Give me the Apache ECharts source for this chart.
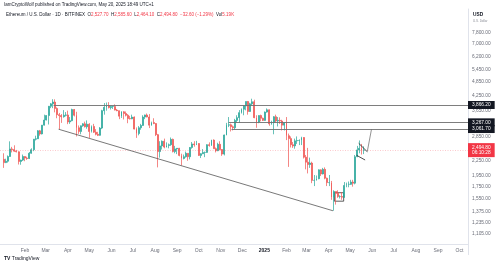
<!DOCTYPE html>
<html>
<head>
<meta charset="utf-8">
<script src="https://cdn.jsdelivr.net/npm/echarts@6/dist/echarts.min.js"></script>
<style>
  html, body { margin: 0; padding: 0; background: #fff; }
  #chart { width: 500px; height: 267px; }
</style>
</head>
<body>
<div id="chart"></div>
<script>
const firstCandle = '2024-01-02';
const candleStepDays = 3;

const opens = [
  2282, 2210, 2240, 2345, 2525, 2510, 2470, 2455, 2235, 2265,
  2345, 2310, 2300, 2420, 2505, 2775, 2785, 3010, 2920, 3180,
  3340, 3490, 3820, 3910, 3980, 3740, 3520, 3490, 3450, 3500,
  3510, 3280, 3320, 3700, 3500, 3100, 2990, 3160, 3220, 3130,
  3210, 2990, 3140, 2970, 2910, 2880, 3090, 3660, 3780, 3830,
  3770, 3810, 3810, 3680, 3660, 3470, 3620, 3560, 3500, 3390,
  3380, 3440, 3060, 2930, 3100, 3170, 3440, 3510, 3440, 3180,
  3260, 3230, 2900, 2460, 2600, 2720, 2570, 2610, 2630, 2770,
  2460, 2525, 2540, 2370, 2300, 2340, 2420, 2340, 2560, 2650,
  2630, 2660, 2370, 2410, 2440, 2440, 2630, 2610, 2750, 2530,
  2480, 2640, 2510, 2400, 2890, 3180, 3190, 3130, 3100, 3330,
  3420, 3590, 3710, 3830, 4000, 3630, 3910, 3990, 3420, 3280,
  3490, 3400, 3330, 3610, 3690, 3220, 3260, 3450, 3310, 3330,
  3310, 3180, 3250, 2870, 2790, 2630, 2600, 2730, 2740, 2740,
  2820, 2330, 2220, 2170, 2200, 1860, 1860, 1890, 2060, 1980,
  2070, 1900, 1820, 1820, 1580, 1670, 1640, 1590, 1590, 1580,
  1770, 1790, 1790, 1830, 1810, 2340, 2500, 2540, 2490
];
const highs = [
  2420, 2295, 2370, 2717, 2575, 2615, 2500, 2465, 2275, 2390,
  2350, 2340, 2450, 2540, 2780, 2870, 3030, 3035, 3185, 3520,
  3500, 3830, 3940, 4090, 4085, 3780, 3580, 3540, 3680, 3610,
  3660, 3440, 3730, 3720, 3620, 3170, 3170, 3240, 3290, 3330,
  3240, 3170, 3220, 3060, 2980, 3120, 3690, 3940, 3960, 3975,
  3840, 3830, 3890, 3720, 3660, 3640, 3640, 3630, 3540, 3480,
  3520, 3460, 3110, 3150, 3220, 3500, 3520, 3560, 3540, 3290,
  3400, 3240, 2920, 2720, 2740, 2790, 2690, 2660, 2820, 2790,
  2600, 2540, 2550, 2410, 2390, 2460, 2420, 2570, 2700, 2720,
  2730, 2670, 2420, 2520, 2460, 2640, 2690, 2760, 2770, 2560,
  2680, 2720, 2520, 2900, 3250, 3440, 3230, 3170, 3380, 3500,
  3680, 3740, 3850, 4000, 4020, 3950, 4110, 4070, 3500, 3500,
  3520, 3420, 3630, 3740, 3700, 3320, 3470, 3520, 3440, 3430,
  3350, 3270, 3440, 2930, 2850, 2700, 2790, 2850, 2770, 2840,
  2830, 2380, 2550, 2320, 2230, 1960, 1950, 2070, 2070, 2100,
  2110, 1910, 1960, 1850, 1690, 1670, 1690, 1610, 1660, 1830,
  1820, 1840, 1870, 1870, 2380, 2600, 2740, 2650, 2590
];
const lows = [
  2100, 2200, 2210, 2340, 2440, 2455, 2440, 2170, 2165, 2245,
  2240, 2270, 2290, 2410, 2470, 2740, 2780, 2870, 2905, 3170,
  3330, 3200, 3750, 3750, 3600, 3400, 3060, 3250, 3420, 3460,
  3210, 3220, 3300, 3460, 2850, 2920, 2910, 3130, 3110, 3070,
  2810, 2960, 2950, 2880, 2860, 2870, 3060, 3520, 3660, 3740,
  3700, 3720, 3670, 3640, 3370, 3410, 3360, 3460, 3240, 3360,
  3370, 3050, 2810, 2880, 3040, 3160, 3370, 3430, 3090, 3160,
  3210, 2860, 2110, 2320, 2510, 2540, 2560, 2540, 2600, 2440,
  2420, 2400, 2350, 2150, 2280, 2320, 2250, 2280, 2530, 2580,
  2620, 2360, 2310, 2400, 2330, 2430, 2580, 2600, 2530, 2440,
  2470, 2490, 2360, 2370, 2880, 3120, 2990, 3020, 3040, 3260,
  3250, 3560, 3500, 3670, 3520, 3620, 3850, 3400, 3100, 3240,
  3300, 3310, 3320, 3590, 3160, 3190, 2910, 3260, 3140, 3220,
  3020, 3020, 2750, 2120, 2560, 2550, 2530, 2650, 2620, 2620,
  2300, 2070, 1990, 2100, 1810, 1760, 1860, 1880, 1940, 1970,
  1880, 1760, 1760, 1540, 1385, 1470, 1570, 1560, 1540, 1570,
  1740, 1740, 1780, 1750, 1790, 2330, 2420, 2390, 2400
];
const closes = [
  2210, 2240, 2345, 2525, 2510, 2470, 2455, 2235, 2265, 2345,
  2310, 2300, 2420, 2505, 2775, 2785, 3010, 2920, 3180, 3340,
  3490, 3820, 3910, 3980, 3740, 3520, 3490, 3450, 3500, 3510,
  3280, 3320, 3700, 3500, 3100, 2990, 3160, 3220, 3130, 3210,
  2990, 3140, 2970, 2910, 2880, 3090, 3660, 3780, 3830, 3770,
  3810, 3810, 3680, 3660, 3470, 3620, 3560, 3500, 3390, 3380,
  3440, 3060, 2930, 3100, 3170, 3440, 3510, 3440, 3180, 3260,
  3230, 2900, 2460, 2600, 2720, 2570, 2610, 2630, 2770, 2460,
  2525, 2540, 2370, 2300, 2340, 2420, 2340, 2560, 2650, 2630,
  2660, 2370, 2410, 2440, 2440, 2630, 2610, 2750, 2530, 2480,
  2640, 2510, 2400, 2890, 3180, 3190, 3130, 3100, 3330, 3420,
  3590, 3710, 3830, 4000, 3630, 3910, 3990, 3420, 3280, 3490,
  3400, 3330, 3610, 3690, 3220, 3260, 3450, 3310, 3330, 3310,
  3180, 3250, 2870, 2790, 2630, 2600, 2730, 2740, 2740, 2820,
  2330, 2220, 2170, 2200, 1860, 1860, 1890, 2060, 1980, 2070,
  1900, 1820, 1820, 1580, 1670, 1640, 1590, 1590, 1580, 1770,
  1790, 1790, 1830, 1810, 2340, 2500, 2540, 2490, 2494.8
];

const priceTicks = [7800, 7000, 6200, 5450, 4850, 4250, 3650, 2850, 2250, 1950, 1750, 1550, 1375, 1235, 1105];
const monthNames = ['Jan', 'Feb', 'Mar', 'Apr', 'May', 'Jun', 'Jul', 'Aug', 'Sep', 'Oct', 'Nov', 'Dec'];
const firstMonthLabel = '2024-02-01';
const timeRange = ['2023-12-28', '2025-10-13'];
const priceRange = [1003, 9818];

const lastPrice = 2494.8;
const countdown = '06:10:28';

// drawings on the chart (date, price)
const levels = [
  { from: '2024-03-12', price: 3866.2 },
  { from: '2024-11-12', price: 3267.0 },
  { from: '2024-11-16', price: 3061.7 }
];
const trendLine = [['2024-03-19', 3056], ['2025-04-07', 1385]];
const rangeBox = [['2025-04-09', 1650], ['2025-04-22', 1520]];
const flagUpper = [['2025-05-13', 2666], ['2025-05-25', 2457]];
const flagLower = [['2025-05-10', 2373], ['2025-05-22', 2267]];
const projection = [['2025-05-25', 2457], ['2025-05-31', 3061.7]];

const DAY = 86400000;
const t = (s) => Date.parse(s);
const fmt = (v) => v.toLocaleString('en-US', { minimumFractionDigits: 2, maximumFractionDigits: 2 });

const UP = '#26a69a';
const DOWN = '#ef5350';
const LABEL_FONT = 'Liberation Sans, Arial, sans-serif';
const CLEAR = 'rgba(0,0,0,0)';

const candles = opens.map((o, i) => [
  t(firstCandle) + i * candleStepDays * DAY, o, closes[i], lows[i], highs[i]
]);

const segment = (pts, color) => [
  { coord: [t(pts[0][0]), pts[0][1]], lineStyle: { color: color, width: 0.8, type: 'solid' }, label: { show: false } },
  { coord: [t(pts[1][0]), pts[1][1]] }
];

const tickMarks = priceTicks.map((v) => ({
  yAxis: v,
  lineStyle: { color: CLEAR, width: 1 },
  label: {
    show: true, position: 'end', distance: 4, formatter: fmt(v),
    color: '#6a6d78', fontSize: 4.8, fontFamily: LABEL_FONT
  }
}));

const levelMarks = levels.map((l) => [
  {
    coord: [t(l.from), l.price],
    lineStyle: { color: '#6f6f6f', width: 0.9, type: 'solid' },
    label: {
      show: true, position: 'end', distance: 0, formatter: fmt(l.price),
      color: '#fff', backgroundColor: '#131722', padding: [1.5, 4],
      fontSize: 4.8, fontFamily: LABEL_FONT
    }
  },
  { coord: [t(timeRange[1]), l.price] }
]);

const lastMark = {
  yAxis: lastPrice,
  lineStyle: { color: 'rgba(242,54,69,0.45)', width: 0.6, type: [1, 1.5] },
  label: {
    show: true, position: 'end', distance: 0, formatter: fmt(lastPrice) + '\n' + countdown,
    color: '#fff', backgroundColor: '#f23645', padding: [1.5, 4], lineHeight: 5.5,
    fontSize: 4.8, fontFamily: LABEL_FONT
  }
};

// month labels: TradingView style, year in bold on January
const monthLabel = (v) => {
  const d = new Date(v);
  if (v < t(firstMonthLabel) || d.getUTCDate() !== 1 || d.getUTCHours() !== 0) return '';
  return d.getUTCMonth() === 0 ? '{yr|' + d.getUTCFullYear() + '}' : monthNames[d.getUTCMonth()];
};

const chart = echarts.init(document.getElementById('chart'), null, { renderer: 'canvas' });

chart.setOption({
  animation: false,
  useUTC: true,
  backgroundColor: '#fff',
  grid: { left: 0, right: 32, top: 9, bottom: 23, outerBoundsMode: 'none' },
  xAxis: {
    type: 'time',
    min: t(timeRange[0]),
    max: t(timeRange[1]),
    minInterval: 28 * DAY,
    maxInterval: 31 * DAY,
    axisLine: { lineStyle: { color: '#e0e3eb', width: 1 } },
    axisTick: { show: false },
    splitLine: { show: false },
    axisLabel: {
      interval: 0,
      hideOverlap: false,
      margin: 4,
      fontSize: 5,
      color: '#6a6d78',
      fontFamily: LABEL_FONT,
      formatter: monthLabel,
      rich: { yr: { fontSize: 5, fontWeight: 'bold', color: '#131722', fontFamily: LABEL_FONT } }
    }
  },
  yAxis: {
    type: 'log',
    position: 'right',
    min: priceRange[0],
    max: priceRange[1],
    axisLine: { show: true, lineStyle: { color: '#e0e3eb', width: 1 } },
    axisTick: { show: false },
    axisLabel: { show: false },
    splitLine: { show: false }
  },
  series: [{
    type: 'candlestick',
    data: candles,
    barWidth: 1.4,
    itemStyle: { color: UP, color0: DOWN, borderColor: UP, borderColor0: DOWN, borderWidth: 0.7 },
    markLine: {
      silent: true,
      symbol: ['none', 'none'],
      precision: 2,
      data: [
        ...tickMarks,
        lastMark,
        segment(trendLine, '#555'),
        segment(flagUpper, '#222'),
        segment(flagLower, '#222'),
        segment(projection, '#777'),
        ...levelMarks
      ]
    },
    markArea: {
      silent: true,
      itemStyle: { color: CLEAR, borderColor: '#333', borderWidth: 0.8 },
      data: [[
        { coord: [t(rangeBox[0][0]), rangeBox[0][1]] },
        { coord: [t(rangeBox[1][0]), rangeBox[1][1]] }
      ]]
    }
  }],
  graphic: [
    {
      type: 'text', left: 4, top: 2.5,
      style: { text: 'IamCryptoWolf published on TradingView.com, May 20, 2025 18:49 UTC+1', fontSize: 4.5, fill: '#131722', fontFamily: LABEL_FONT }
    },
    {
      type: 'text', left: 6, top: 12.5,
      style: {
        text: 'Ethereum / U.S. Dollar · 1D · BITFINEX  O{r|2,527.70}  H{r|2,585.60}  L{r|2,464.10}  C{r|2,494.80}  {r|−32.60 (−1.29%)}  Vol{r|5.19K}',
        fontSize: 4.5, fill: '#131722', fontFamily: LABEL_FONT,
        rich: { r: { fill: '#f23645', fontSize: 4.5, fontFamily: LABEL_FONT } }
      }
    },
    {
      type: 'text', left: 473, top: 12,
      style: { text: 'USD', fontSize: 4.8, fontWeight: 'bold', fill: '#131722', fontFamily: LABEL_FONT }
    },
    {
      type: 'text', left: 473, top: 19.5,
      style: { text: 'U.S. Dollar', fontSize: 3, fill: '#8a8d96', fontFamily: LABEL_FONT }
    },
    {
      type: 'line', shape: { x1: 468.5, y1: 244, x2: 468.5, y2: 255 },
      style: { stroke: '#e0e3eb', lineWidth: 1 }
    },
    {
      type: 'text', left: 4, top: 256.5,
      style: {
        text: '{b|TV} TradingView', fontSize: 5, fill: '#131722', fontFamily: LABEL_FONT,
        rich: { b: { fontSize: 5, fontWeight: 'bold', fill: '#131722', fontFamily: LABEL_FONT } }
      }
    }
  ]
});
</script>
</body>
</html>
